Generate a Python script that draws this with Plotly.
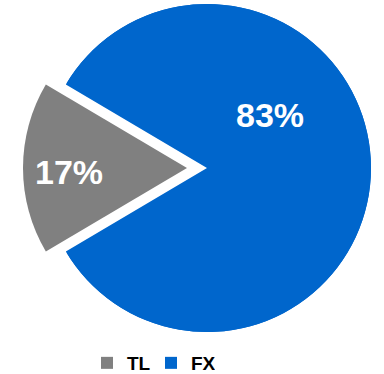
import math
import plotly.graph_objects as go

# Share of exposure by currency
labels = ["TL", "FX"]
values = [17, 83]
colors = ["#808080", "#0066CC"]

W, H = 384, 374
CX, CY, R = 207, 168, 164   # pie centre and radius in pixels
PULL = 20                   # how far the TL wedge is pulled out, pixels
FONT = "Liberation Sans, Arial, sans-serif"

total = sum(values)
# first wedge (TL) centred on 9 o'clock, drawn clockwise
rotation = 270 - 360 * values[0] / total / 2
mid = math.radians(rotation + 360 * values[0] / total / 2)
dx, dy = PULL * math.sin(mid), -PULL * math.cos(mid)


def domain(ox=0.0, oy=0.0):
    return dict(
        x=[(CX + ox - R) / W, (CX + ox + R) / W],
        y=[1 - (CY + oy + R) / H, 1 - (CY + oy - R) / H],
    )


common = dict(
    labels=labels,
    values=values,
    sort=False,
    direction="clockwise",
    rotation=rotation,
    textinfo="none",
    hoverinfo="label+percent",
)

fig = go.Figure()
# base pie (also feeds the legend)
fig.add_trace(go.Pie(**common, domain=domain(), marker=dict(colors=colors),
                     showlegend=True))
# FX wedge in place, TL spot blanked out
fig.add_trace(go.Pie(**common, domain=domain(), showlegend=False,
                     marker=dict(colors=["#FFFFFF", colors[1]],
                                 line=dict(color=["#FFFFFF", "rgba(0,0,0,0)"],
                                           width=[3, 0]))))
# TL wedge pulled out from the centre
fig.add_trace(go.Pie(**common, domain=domain(dx, dy), showlegend=False,
                     marker=dict(colors=[colors[0], "rgba(0,0,0,0)"])))

# percentage labels
label_px = {"TL": (69, 172), "FX": (270, 115)}
for lab, val in zip(labels, values):
    px, py = label_px[lab]
    fig.add_annotation(
        x=px / W, y=1 - py / H, xref="paper", yref="paper",
        xanchor="center", yanchor="middle",
        text=f"{val}%", showarrow=False,
        font=dict(family=FONT, size=34, color="white", weight="bold"),
    )

fig.update_layout(
    width=W, height=H,
    margin=dict(l=0, r=0, t=0, b=0, autoexpand=False),
    paper_bgcolor="white",
    plot_bgcolor="white",
    legend=dict(
        orientation="h",
        x=87 / W, xanchor="left",
        y=1 - 363 / H, yanchor="middle",
        entrywidth=19, entrywidthmode="pixels",
        font=dict(family=FONT, size=19, color="#000000", weight="bold"),
        traceorder="normal",
    ),
)

fig.write_html("out.html")
